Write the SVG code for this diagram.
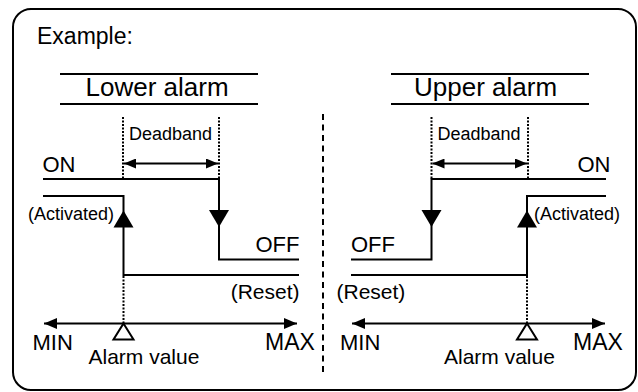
<svg xmlns="http://www.w3.org/2000/svg" width="638" height="392" viewBox="0 0 638 392">
<style>
text{font-family:"Liberation Sans",Arial,sans-serif;fill:#000}
.ln{fill:none;stroke:#000;stroke-width:2}
.dot{fill:none;stroke:#000;stroke-width:2;stroke-dasharray:2 1.5}
.dash{fill:none;stroke:#000;stroke-width:2;stroke-dasharray:6 4.5}
.ah{fill:#000}
</style>
<defs>
<marker id="sa" markerUnits="userSpaceOnUse" markerWidth="12" markerHeight="10" refX="12" refY="5" orient="auto-start-reverse" viewBox="0 0 12 10"><path d="M0,0 L12,5 L0,10 z" fill="#000"/></marker>
<marker id="ax" markerUnits="userSpaceOnUse" markerWidth="13" markerHeight="11" refX="13" refY="5.5" orient="auto-start-reverse" viewBox="0 0 13 11"><path d="M0,0 L13,5.5 L0,11 z" fill="#000"/></marker>
<polygon id="down" points="-10,0 10,0 0,17"/>
<polygon id="up" points="-10,0 10,0 0,-17"/>
</defs>
<rect id="frame" x="13" y="9" width="623" height="381" rx="18" ry="18" class="ln"/>
<text id="title" x="37" y="44" font-size="23">Example:</text>
<line id="divider" x1="323" y1="114" x2="323" y2="372" class="dash"/>

<g id="lower-alarm">
<line x1="60" y1="74" x2="258" y2="74" class="ln"/>
<line x1="60" y1="104" x2="258" y2="104" class="ln"/>
<text x="85.5" y="96" font-size="26">Lower alarm</text>
</g>
<g id="upper-alarm">
<line x1="391" y1="74" x2="589" y2="74" class="ln"/>
<line x1="391" y1="104" x2="589" y2="104" class="ln"/>
<text x="414" y="96" font-size="26">Upper alarm</text>
</g>

<g id="connectors">
<!-- left panel -->
<line x1="123" y1="117" x2="123" y2="179" class="dot"/>
<line x1="219" y1="117" x2="219" y2="179" class="dot"/>
<line x1="124" y1="163.5" x2="218" y2="163.5" class="ln" marker-start="url(#sa)" marker-end="url(#sa)"/>
<polyline points="43,179 219,179 219,259.5 299,259.5" class="ln"/>
<polyline points="43,196 123.5,196 123.5,275 299,275" class="ln"/>
<use href="#down" x="219" y="210" class="ah"/>
<use href="#up" x="123.5" y="227.5" class="ah"/>
<line x1="123.5" y1="276" x2="123.5" y2="323" class="dot"/>
<line x1="44" y1="323.5" x2="297" y2="323.5" class="ln" marker-start="url(#ax)" marker-end="url(#ax)"/>
<polygon points="123.5,323.5 133.5,339.5 113.5,339.5" fill="#fff" stroke="#000" stroke-width="2"/>
<!-- right panel -->
<line x1="431.5" y1="117" x2="431.5" y2="179" class="dot"/>
<line x1="528" y1="117" x2="528" y2="179" class="dot"/>
<line x1="432.5" y1="163.5" x2="527" y2="163.5" class="ln" marker-start="url(#sa)" marker-end="url(#sa)"/>
<polyline points="606,179 431.5,179 431.5,259.5 351,259.5" class="ln"/>
<polyline points="606,196 527,196 527,275 351,275" class="ln"/>
<use href="#down" x="431.5" y="210" class="ah"/>
<use href="#up" x="527" y="227.5" class="ah"/>
<line x1="527" y1="276" x2="527" y2="323" class="dot"/>
<line x1="352" y1="323.5" x2="605" y2="323.5" class="ln" marker-start="url(#ax)" marker-end="url(#ax)"/>
<polygon points="527,323.5 537,339.5 517,339.5" fill="#fff" stroke="#000" stroke-width="2"/>
</g>

<g id="left-labels">
<text x="129" y="140" font-size="18">Deadband</text>
<text x="42.5" y="172" font-size="22">ON</text>
<text x="114" y="220" font-size="18" text-anchor="end">(Activated)</text>
<text x="299.5" y="252" font-size="22" text-anchor="end">OFF</text>
<text x="299.5" y="298.5" font-size="21" text-anchor="end">(Reset)</text>
<text x="32.5" y="349.5" font-size="22">MIN</text>
<text x="265" y="349.5" font-size="23">MAX</text>
<text x="88.5" y="363.5" font-size="21">Alarm value</text>
</g>
<g id="right-labels">
<text x="437.5" y="140" font-size="18">Deadband</text>
<text x="610.5" y="172" font-size="22" text-anchor="end">ON</text>
<text x="534" y="220" font-size="18">(Activated)</text>
<text x="351" y="252" font-size="22">OFF</text>
<text x="336.5" y="298.5" font-size="21">(Reset)</text>
<text x="340" y="349.5" font-size="22">MIN</text>
<text x="573" y="349.5" font-size="23">MAX</text>
<text x="444" y="363.5" font-size="21">Alarm value</text>
</g>
</svg>
